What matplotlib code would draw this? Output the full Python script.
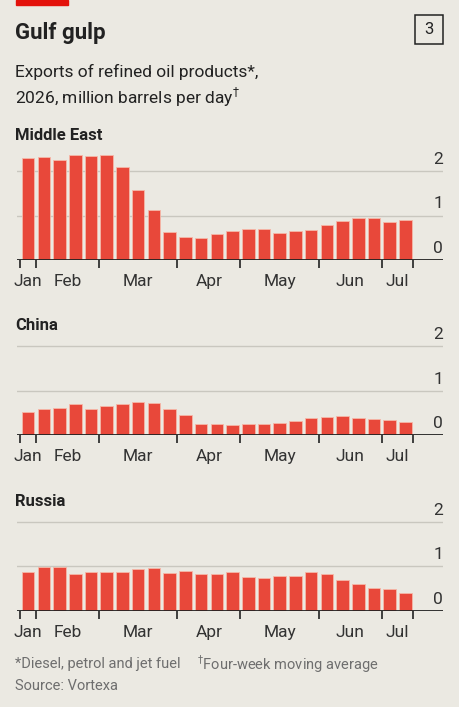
import matplotlib
matplotlib.use('Agg')
import matplotlib.pyplot as plt
from matplotlib.patches import Rectangle
import numpy as np

# weekly values, four-week moving average, million b/d
middle_east = [2.30, 2.32, 2.25, 2.35, 2.33, 2.35, 2.09, 1.58, 1.12, 0.63, 0.51, 0.49, 0.59,
               0.66, 0.70, 0.69, 0.60, 0.65, 0.67, 0.79, 0.88, 0.94, 0.94, 0.85, 0.90]
china = [0.52, 0.59, 0.62, 0.70, 0.59, 0.65, 0.70, 0.75, 0.72, 0.58, 0.46, 0.26, 0.25,
         0.23, 0.26, 0.25, 0.27, 0.32, 0.38, 0.41, 0.43, 0.39, 0.37, 0.35, 0.30]
russia = [0.88, 0.98, 0.98, 0.83, 0.88, 0.86, 0.86, 0.93, 0.95, 0.85, 0.89, 0.83, 0.83,
          0.88, 0.75, 0.74, 0.79, 0.79, 0.88, 0.82, 0.68, 0.61, 0.50, 0.48, 0.39]
regions = ['Middle East', 'China', 'Russia']
months = ['Jan', 'Feb', 'Mar', 'Apr', 'May', 'Jun', 'Jul']
month_edges = [-0.5, 0.5, 4.5, 9.5, 13.5, 18.5, 22.5, 24.5]
yticks = [0, 1, 2]

plt.rcParams['font.family'] = ['Roboto', 'DejaVu Sans']
bg = '#ebe9e2'
red = '#e8483a'
dark = '#222222'

W, H = 459, 707
fig = plt.figure(figsize=(W / 100, H / 100), dpi=100, facecolor=bg)

def fx(px):
    return px / W

def fy(py):
    return 1 - py / H

# red tag, title, subtitle, chart number
fig.patches.append(Rectangle((fx(16), fy(5)), fx(52), 5 / H, transform=fig.transFigure,
                             color='#e3120b', zorder=5))
fig.text(fx(15), fy(33), 'Gulf gulp', fontsize=16, fontweight='bold', color=dark, va='center')
fig.text(fx(15), fy(72), 'Exports of refined oil products*,', fontsize=12.5, color=dark, va='center')
fig.text(fx(15), fy(97), '2026, million barrels per day$^{\\dagger}$', fontsize=12.5, color=dark, va='center')
fig.patches.append(Rectangle((fx(415), fy(44)), fx(28), 29 / H, transform=fig.transFigure,
                             fill=False, edgecolor=dark, linewidth=1.1))
fig.text(fx(429), fy(30), '3', fontsize=12, color=dark, ha='center', va='center')

series = [middle_east, china, russia]
baselines = [260, 435.3, 610.7]
title_y = [136, 325, 502]
unit = 44.5
ymax = 2.5
x0, x1 = 17, 443
xlim = (-0.71, 26.39)

for vals, name, base, ty in zip(series, regions, baselines, title_y):
    ax = fig.add_axes([fx(x0), fy(base), fx(x1 - x0), unit * ymax / H])
    ax.set_facecolor(bg)
    ax.patch.set_alpha(0)
    x = np.arange(len(vals))
    ax.bar(x, vals, width=0.8, color=red, edgecolor='#f6b8a8', linewidth=0.6, zorder=3)
    ax.set_xlim(*xlim)
    ax.set_ylim(0, ymax)
    for v in yticks[1:]:
        ax.axhline(v, color='#c9c7bf', linewidth=1, zorder=1)
    ax.axhline(0, color=dark, linewidth=1.3, zorder=4)
    for v in yticks:
        ax.annotate(str(v), (xlim[1], v), xytext=(0, 3), textcoords='offset points',
                    ha='right', va='bottom', fontsize=12.5, color='#333333')
    for s in ax.spines.values():
        s.set_visible(False)
    ax.set_yticks([])
    ax.set_xticks(month_edges)
    ax.set_xticklabels([])
    ax.tick_params(axis='x', which='major', length=6, width=1.2, color=dark)
    centers = [(a + b) / 2 for a, b in zip(month_edges[:-1], month_edges[1:])]
    ax.set_xticks(centers, minor=True)
    ax.set_xticklabels(months, minor=True, fontsize=12.5, color='#333333')
    ax.tick_params(axis='x', which='minor', length=0, pad=10)
    fig.text(fx(15), fy(ty), name, fontsize=12, fontweight='bold', color=dark, va='center')

fig.text(fx(15), fy(664), '*Diesel, petrol and jet fuel', fontsize=10.5, color='#6e6e6e', va='center')
fig.text(fx(197), fy(664), '$^{\\dagger}$Four-week moving average', fontsize=10.5, color='#6e6e6e', va='center')
fig.text(fx(15), fy(686), 'Source: Vortexa', fontsize=10.5, color='#6e6e6e', va='center')

fig.savefig('out.png', dpi=100, facecolor=bg)
